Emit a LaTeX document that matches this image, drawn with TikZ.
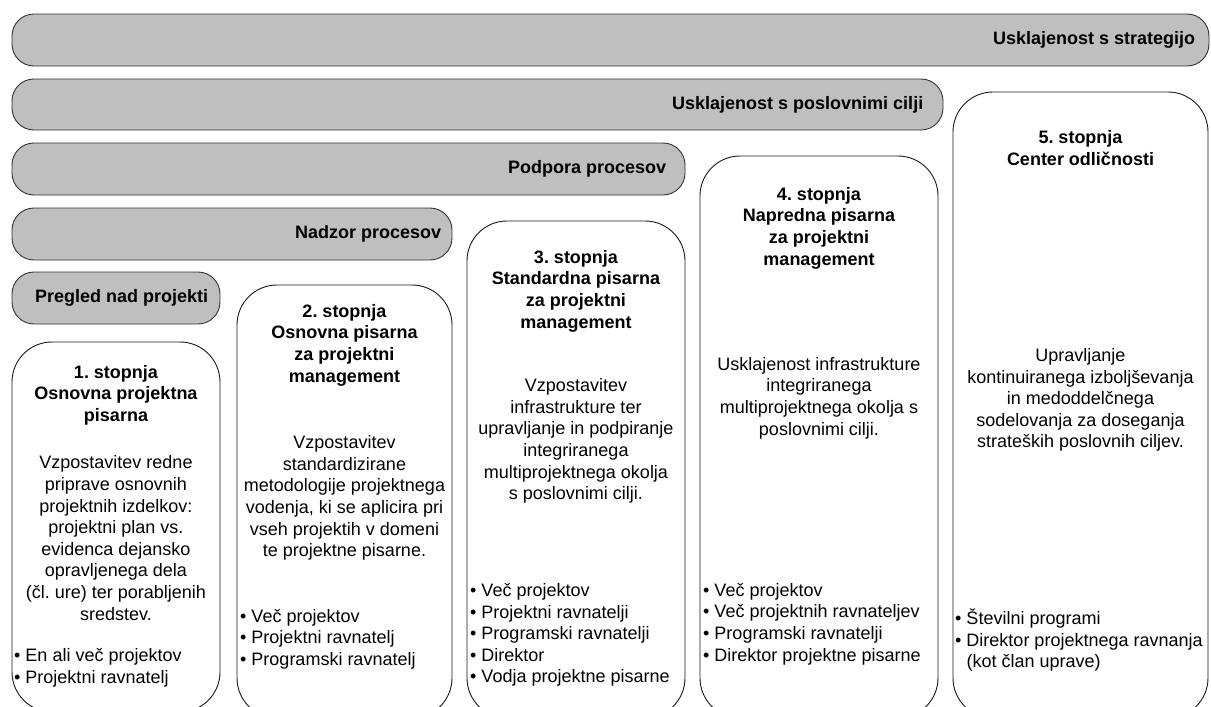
\documentclass[tikz,border=0pt]{standalone}
\usepackage{fontspec}
\setmainfont{Liberation Sans}
\usetikzlibrary{positioning}

\begin{document}
\frenchspacing
\begin{tikzpicture}[x=1pt,y=-1pt,
	bar/.style={draw=black!80, line width=0.9pt, fill=black!25, rounded corners=22pt, inner sep=0pt},
	bartext/.style={font=\fontsize{18}{21.6}\selectfont\bfseries, inner sep=0pt},
	stage/.style={draw=black!90, line width=0.9pt, fill=white, rounded corners=40pt, inner sep=0pt},
	title/.style={font=\fontsize{18}{21.6}\selectfont\bfseries, align=center, inner sep=0pt},
	body/.style={font=\fontsize{18}{21.6}\selectfont, align=center, inner sep=0pt},
	items/.style={font=\fontsize{18}{21.6}\selectfont, align=left, anchor=west, inner sep=0pt}]
	\useasboundingbox (0,0) rectangle (1211,707);
	\clip (0,0) rectangle (1211,707);
	% bars
	\node[bar, minimum width=1197pt, minimum height=52pt] (b1) at (610.5,40) {};
	\node[bar, minimum width=931pt, minimum height=51pt] (b2) at (477.5,104.5) {};
	\node[bar, minimum width=673pt, minimum height=52pt] (b3) at (348.5,169) {};
	\node[bar, minimum width=440pt, minimum height=52pt] (b4) at (232,234) {};
	\node[bar, minimum width=208pt, minimum height=52pt] (b5) at (116,298) {};
	\node[bartext, anchor=east, left=14pt of b1.east] (l1) {Usklajenost s strategijo};
	\node[bartext, anchor=east, left=20pt of b2.east] (l2) {Usklajenost s poslovnimi cilji};
	\node[bartext, anchor=east, left=19pt of b3.east] (l3) {Podpora procesov};
	\node[bartext, anchor=east, left=11pt of b4.east] (l4) {Nadzor procesov};
	\node[bartext, anchor=east, left=12pt of b5.east] (l5) {Pregled nad projekti};
	% stages
	\node[stage, minimum width=208pt, minimum height=370pt] (s1) at (116,527) {};
	\node[stage, minimum width=215pt, minimum height=433pt] (s2) at (344.5,501.5) {};
	\node[stage, minimum width=218pt, minimum height=497pt] (s3) at (576,469.5) {};
	\node[stage, minimum width=238pt, minimum height=562pt] (s4) at (819,437) {};
	\node[stage, minimum width=255pt, minimum height=626pt] (s5) at (1080.5,405) {};
	% stage 1
	\node[title] (t1) at (116,395) {1. stopnja\\Osnovna projektna\\pisarna};
	\node[body] (d1) at (116,538) {Vzpostavitev redne\\priprave osnovnih\\projektnih izdelkov:\\projektni plan vs.\\evidenca dejansko\\opravljenega dela\\(čl. ure) ter porabljenih\\sredstev.};
	\node[items] (i1) at (14,668) {• En ali več projektov\\• Projektni ravnatelj};
	% stage 2
	\node[title] (t2) at (344.5,345) {2. stopnja\\Osnovna pisarna\\za projektni\\management};
	\node[body] (d2) at (344.5,498) {Vzpostavitev\\standardizirane\\metodologije projektnega\\vodenja, ki se aplicira pri\\vseh projektih v domeni\\te projektne pisarne.};
	\node[items] (i2) at (240,639) {• Več projektov\\• Projektni ravnatelj\\• Programski ravnatelj};
	% stage 3
	\node[title] (t3) at (576,291) {3. stopnja\\Standardna pisarna\\za projektni\\management};
	\node[body] (d3) at (576,441) {Vzpostavitev\\infrastrukture ter\\upravljanje in podpiranje\\integriranega\\multiprojektnega okolja\\s poslovnimi cilji.};
	\node[items] (i3) at (470,635) {• Več projektov\\• Projektni ravnatelji\\• Programski ravnatelji\\• Direktor\\• Vodja projektne pisarne};
	% stage 4
	\node[title] (t4) at (819,228) {4. stopnja\\Napredna pisarna\\za projektni\\management};
	\node[body] (d4) at (819,398) {Usklajenost infrastrukture\\integriranega\\multiprojektnega okolja s\\poslovnimi cilji.};
	\node[items] (i4) at (703,624) {• Več projektov\\• Več projektnih ravnateljev\\• Programski ravnatelji\\• Direktor projektne pisarne};
	% stage 5
	\node[title] (t5) at (1080.5,148) {5. stopnja\\Center odličnosti};
	\node[body] (d5) at (1080.5,400) {Upravljanje\\kontinuiranega izboljševanja\\in medoddelčnega\\sodelovanja za doseganja\\strateških poslovnih ciljev.};
	\node[items] (i5) at (955,640) {• Številni programi\\• Direktor projektnega ravnanja\\\phantom{• }(kot član uprave)};
\end{tikzpicture}
\end{document}
